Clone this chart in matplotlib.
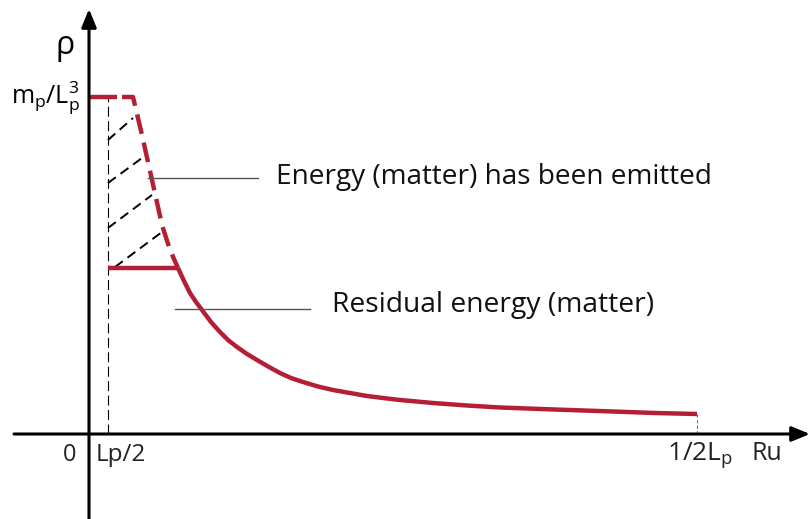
import matplotlib
matplotlib.use("Agg")
import matplotlib.pyplot as plt

# chart units: origin at the axes crossing, one unit ~ one pixel
plt.rcParams["font.family"] = ["Open Sans", "DejaVu Sans"]
plt.rcParams["mathtext.fontset"] = "custom"
plt.rcParams["mathtext.rm"] = "Open Sans"

RED = "#b41f36"

# plateau densities
rho_top = 337
rho_residual = 166
x_half_lp = 19       # Lp/2
x_half_end = 608     # 1/2Lp

# emitted part of the curve (dashed)
emit_x = [33, 44, 53, 63, 73, 81, 89]
emit_y = [337, 337, 299, 254, 209, 184, 166]

# remaining curve (solid)
curve_x = [89, 95, 101, 107, 113, 122, 131, 139, 148, 158, 168, 180, 191,
           202, 214, 229, 244, 261, 278, 294, 311, 344, 378, 411, 466, 524,
           566, 608]
curve_y = [166, 153, 141, 132, 124, 112, 102, 94, 87, 80, 74, 67, 61,
           56, 52, 47.5, 44, 41, 38, 36, 34, 31, 28.5, 26.5, 24.5, 22.5,
           21, 20]

# hatch segments inside the emitted region
hatch_x0 = [19, 19, 19, 26]
hatch_y0 = [294, 251, 206, 167]
hatch_x1 = [44, 53, 63, 73]
hatch_y1 = [316, 276, 239, 202]

fig = plt.figure(figsize=(8.1, 5.19), dpi=100)
ax = fig.add_axes([0, 0, 1, 1])
ax.set_xlim(-89, 721)
ax.set_ylim(-85, 434)
ax.axis("off")

# axes with arrows
ax.annotate("", xy=(721, 0), xytext=(-75, 0),
            arrowprops=dict(arrowstyle="-|>,head_length=1.1,head_width=0.45",
                            color="black", lw=2.2, shrinkA=0, shrinkB=0))
ax.annotate("", xy=(0, 425), xytext=(0, -85),
            arrowprops=dict(arrowstyle="-|>,head_length=1.1,head_width=0.45",
                            color="black", lw=2.2, shrinkA=0, shrinkB=0))

# Lp/2 guide and end tick
ax.plot([x_half_lp, x_half_lp], [0, rho_top], color="black", lw=0.8,
        dashes=(9, 4))
ax.plot([x_half_end, x_half_end], [0, curve_y[-1]], color="#777777", lw=0.8,
        dashes=(3, 2))

# hatch
for x0, y0, x1, y1 in zip(hatch_x0, hatch_y0, hatch_x1, hatch_y1):
    ax.plot([x0, x1], [y0, y1], color="black", lw=1.4, dashes=(5, 3))

# density profile
ax.plot([0, 28], [rho_top, rho_top], color=RED, lw=3.2, solid_capstyle="butt")
ax.plot(emit_x, emit_y, color=RED, lw=3.2, dashes=(4.5, 2),
        solid_joinstyle="round")
ax.plot([x_half_lp, curve_x[0]], [rho_residual, rho_residual], color=RED,
        lw=3.2, solid_capstyle="butt")
ax.plot(curve_x, curve_y, color=RED, lw=3.2, solid_joinstyle="round",
        solid_capstyle="butt")

# callouts
ax.plot([59, 169], [256, 256], color="#555555", lw=1.0)
ax.plot([86, 221], [125, 125], color="#555555", lw=1.0)
ax.text(187, 257, "Energy (matter) has been emitted", fontsize=20.2,
        ha="left", va="center", color="#111111")
ax.text(243, 129, "Residual energy (matter)", fontsize=20.3,
        ha="left", va="center", color="#111111")

# axis labels
ax.text(-24, 388, "ρ", fontsize=23, ha="center", va="center")
ax.text(-9, 336, r"m$_\mathregular{p}$/L$_\mathregular{p}^\mathregular{3}$",
        fontsize=18, ha="right", va="center")
ax.text(-13, -21, "0", fontsize=17, ha="right", va="center", color="#222222")
ax.text(7, -21, "Lp/2", fontsize=17.5, ha="left", va="center", color="#222222")
ax.text(578, -22, r"1/2L$_\mathregular{p}$", fontsize=19, ha="left",
        va="center", color="#222222")
ax.text(663, -20, "Ru", fontsize=18, ha="left", va="center", color="#222222")

fig.savefig("out.png", dpi=100)
